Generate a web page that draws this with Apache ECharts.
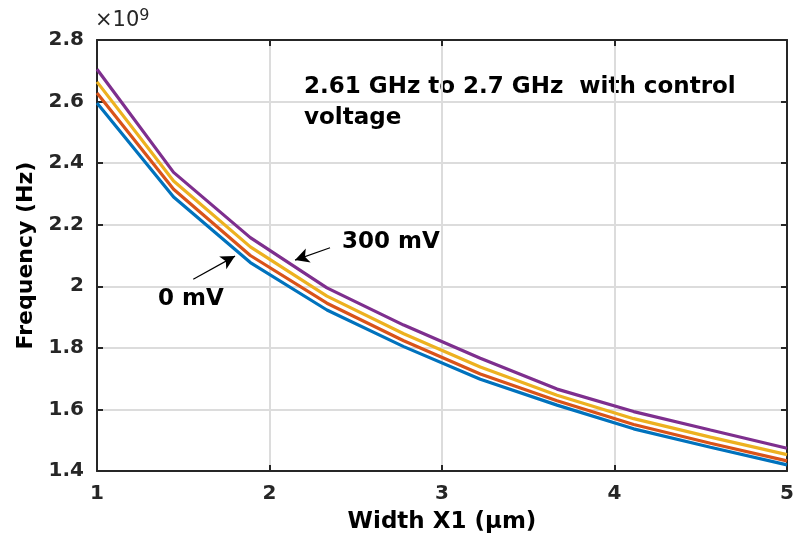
<!DOCTYPE html>
<html><head><meta charset="utf-8">
<script src="https://cdn.jsdelivr.net/npm/echarts@6/dist/echarts.min.js"></script>
<style>html,body{margin:0;padding:0;background:#fff}#c{width:798px;height:546px}</style>
</head><body><div id="c"></div>
<script>
const widths = [1, 1.444, 1.889, 2.333, 2.778, 3.222, 3.667, 4.111, 4.556, 5];
const f0mV   = [2.595, 2.290, 2.077, 1.923, 1.804, 1.698, 1.614, 1.537, 1.477, 1.420];
const f100mV = [2.628, 2.315, 2.100, 1.945, 1.823, 1.715, 1.628, 1.551, 1.490, 1.433];
const f200mV = [2.664, 2.342, 2.128, 1.968, 1.846, 1.738, 1.646, 1.570, 1.510, 1.453];
const f300mV = [2.705, 2.370, 2.158, 1.995, 1.874, 1.766, 1.666, 1.593, 1.533, 1.474];
const seriesNames = ['0 mV', '100 mV', '200 mV', '300 mV'];
const seriesColors = ['#0072BD', '#D95319', '#EDB120', '#7E2F8E'];
const xTicks = [1, 2, 3, 4, 5];
const yTicks = [1.4, 1.6, 1.8, 2.0, 2.2, 2.4, 2.6, 2.8];
const arrow300 = [[2.351, 2.125], [2.148, 2.085]];
const arrow0 = [[1.558, 2.023], [1.800, 2.098]];

const FONT = 'DejaVu Sans';
const axisCol = '#262626';
const chart = echarts.init(document.getElementById('c'), null, {renderer: 'canvas'});
const all = [f0mV, f100mV, f200mV, f300mV];
const series = all.map((arr, i) => ({
  name: seriesNames[i], type: 'line', xAxisIndex: 0, yAxisIndex: 0,
  data: widths.map((w, j) => [w, arr[j]]),
  showSymbol: false, symbol: 'none',
  lineStyle: {color: seriesColors[i], width: 3.2}, z: 3 + i
}));
const arrowLine = (pts) => ({
  type: 'line', xAxisIndex: 0, yAxisIndex: 0, data: [], silent: true,
  markLine: {
    silent: true, animation: false,
    symbol: ['none', 'arrow'], symbolSize: [11, 14],
    lineStyle: {color: '#000', width: 1.2, type: 'solid'},
    label: {show: false},
    data: [[{coord: pts[0]}, {coord: pts[1]}]]
  }
});
series.push(arrowLine(arrow300));
series.push(arrowLine(arrow0));

chart.setOption({
  animation: false,
  backgroundColor: '#fff',
  grid: {left: 97, right: 11, top: 40, bottom: 75, containLabel: false},
  xAxis: [
    {type: 'value', position: 'bottom', min: xTicks[0], max: xTicks[xTicks.length-1], interval: 1,
     axisLine: {onZero: false, lineStyle: {color: axisCol, width: 2}},
     axisTick: {inside: true, length: 6, lineStyle: {color: axisCol, width: 2}},
     splitLine: {show: true, lineStyle: {color: '#dcdcdc', width: 2}},
     axisLabel: {color: '#262626', fontFamily: FONT, fontSize: 20, fontWeight: 'bold', margin: 13,
       formatter: v => String(v)},
     name: 'Width X1 (\u03bcm)', nameLocation: 'middle', nameGap: 40,
     nameTextStyle: {color: '#000', fontFamily: FONT, fontSize: 23, fontWeight: 'bold'}},
    {type: 'value', position: 'top', min: xTicks[0], max: xTicks[xTicks.length-1], interval: 1,
     axisLine: {show: true, onZero: false, lineStyle: {color: axisCol, width: 2}},
     axisTick: {show: true, inside: true, length: 6, lineStyle: {color: axisCol, width: 2}},
     splitLine: {show: false}, axisLabel: {show: false}}
  ],
  yAxis: [
    {type: 'value', position: 'left', min: yTicks[0], max: yTicks[yTicks.length-1], interval: 0.2,
     axisLine: {show: true, onZero: false, lineStyle: {color: axisCol, width: 2}},
     axisTick: {show: true, inside: true, length: 6, lineStyle: {color: axisCol, width: 2}},
     splitLine: {show: true, lineStyle: {color: '#dcdcdc', width: 2}},
     axisLabel: {color: '#262626', fontFamily: FONT, fontSize: 20, fontWeight: 'bold', margin: 13,
       formatter: v => String(+v.toFixed(1))},
     name: 'Frequency (Hz)', nameLocation: 'middle', nameGap: 55,
     nameTextStyle: {color: '#000', fontFamily: FONT, fontSize: 22, fontWeight: 'bold'}},
    {type: 'value', position: 'right', min: yTicks[0], max: yTicks[yTicks.length-1], interval: 0.2,
     axisLine: {show: true, onZero: false, lineStyle: {color: axisCol, width: 2}},
     axisTick: {show: true, inside: true, length: 6, lineStyle: {color: axisCol, width: 2}},
     splitLine: {show: false}, axisLabel: {show: false}}
  ],
  graphic: [
    {type: 'text', left: 95, top: 8, style: {
      text: '\u00d710{s|9}', fill: '#262626', font: '21px "DejaVu Sans"',
      rich: {s: {fontSize: 16, fontFamily: FONT, verticalAlign: 'top', padding: [0,0,9,0]}}}},
    {type: 'text', left: 304, top: 72, style: {
      text: '2.61 GHz to 2.7 GHz  with control\nvoltage', fill: '#000',
      font: 'bold 23px "DejaVu Sans"', lineHeight: 31}},
    {type: 'text', left: 342, top: 231, style: {text: '300 mV', fill: '#000', font: 'bold 23px "DejaVu Sans"'}},
    {type: 'text', left: 158, top: 288, style: {text: '0 mV', fill: '#000', font: 'bold 23px "DejaVu Sans"'}}
  ],
  series: series
});
</script></body></html>
